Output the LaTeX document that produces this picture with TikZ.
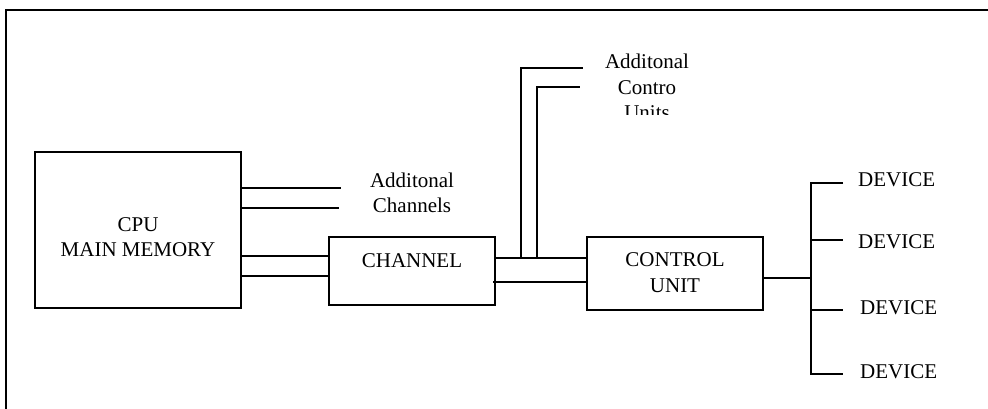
\documentclass[tikz,border=0pt]{standalone}
\usepackage{fontspec}
\setmainfont{Liberation Serif}

\begin{document}
\begin{tikzpicture}[
  x=1pt, y=-1pt,
  font=\fontsize{21}{25.5}\selectfont,
  wire/.style={black, line width=2pt},
  unit/.style={draw=black, line width=2pt, inner sep=0pt},
  lbl/.style={align=center, inner sep=0pt},
]
% coordinates in pt, y grows downwards
\useasboundingbox (0,0) rectangle (988,409);
\draw[wire] (6,409) -- (6,10) -- (988,10);
% the three boxes
\node[unit, minimum width=206pt, minimum height=156pt] (cpu) at (138,230) {};
\node[unit, minimum width=166pt, minimum height=68pt] (chan) at (412,271) {};
\node[unit, minimum width=176pt, minimum height=73pt] (ctl) at (675,273.5) {};
\node[lbl] (cputxt) at (138,237) {CPU\\MAIN MEMORY};
\node[lbl] (chantxt) at (412,260.5) {CHANNEL};
\node[lbl] (ctltxt) at (675,272.5) {CONTROL\\UNIT};
% other channels on the CPU
\node[lbl] (achtxt) at (412,193) {Additonal\\Channels};
\coordinate (ach1) at (341,188);
\coordinate (ach2) at (339,208);
\draw[wire] (cpu.east |- ach1) -- (ach1);
\draw[wire] (cpu.east |- ach2) -- (ach2);
% CPU to channel
\draw[wire] ([yshift=-26pt]cpu.east) -- ([yshift=-26pt]cpu.east -| chan.west);
\draw[wire] ([yshift=-46pt]cpu.east) -- ([yshift=-46pt]cpu.east -| chan.west);
% channel to control unit
\draw[wire] ([yshift=13pt]chan.east) -- ([yshift=13pt]chan.east -| ctl.west);
\draw[wire, shorten <=-3pt, shorten >=-2pt] ([yshift=-11pt]chan.east) -- ([yshift=-11pt]chan.east -| ctl.west);
% taps up to the other control units, last line cut off
\begin{scope}
\clip (560,30) rectangle (740,115);
\node[lbl] (acutxt) at (647,87) {Additonal\\Contro\\Units};
\end{scope}
\coordinate (tap1) at (521,258);
\coordinate (tap2) at (537,258);
\coordinate (acu1) at (583,68);
\coordinate (acu2) at (580,87);
\draw[wire] (tap1) |- (acu1);
\draw[wire] (tap2) |- (acu2);
% devices on the bus
\node[lbl, anchor=west] (dev1) at (858,180) {DEVICE};
\node[lbl, anchor=west] (dev2) at (858,242) {DEVICE};
\node[lbl, anchor=west] (dev3) at (860,308) {DEVICE};
\node[lbl, anchor=west] (dev4) at (860,372) {DEVICE};
\coordinate (bus1) at (811,183);
\coordinate (bus2) at (811,240);
\coordinate (bus3) at (811,310);
\coordinate (bus4) at (811,374);
\draw[wire] ([yshift=-4.5pt]ctl.east) -- ([yshift=-4.5pt]ctl.east -| bus1);
\draw[wire] ([xshift=-15pt]dev1.west |- bus1) -- (bus1) -- (bus4) -- ([xshift=-17pt]dev4.west |- bus4);
\draw[wire] (bus2) -- ([xshift=-15pt]dev2.west |- bus2);
\draw[wire] (bus3) -- ([xshift=-17pt]dev3.west |- bus3);
\end{tikzpicture}
\end{document}
